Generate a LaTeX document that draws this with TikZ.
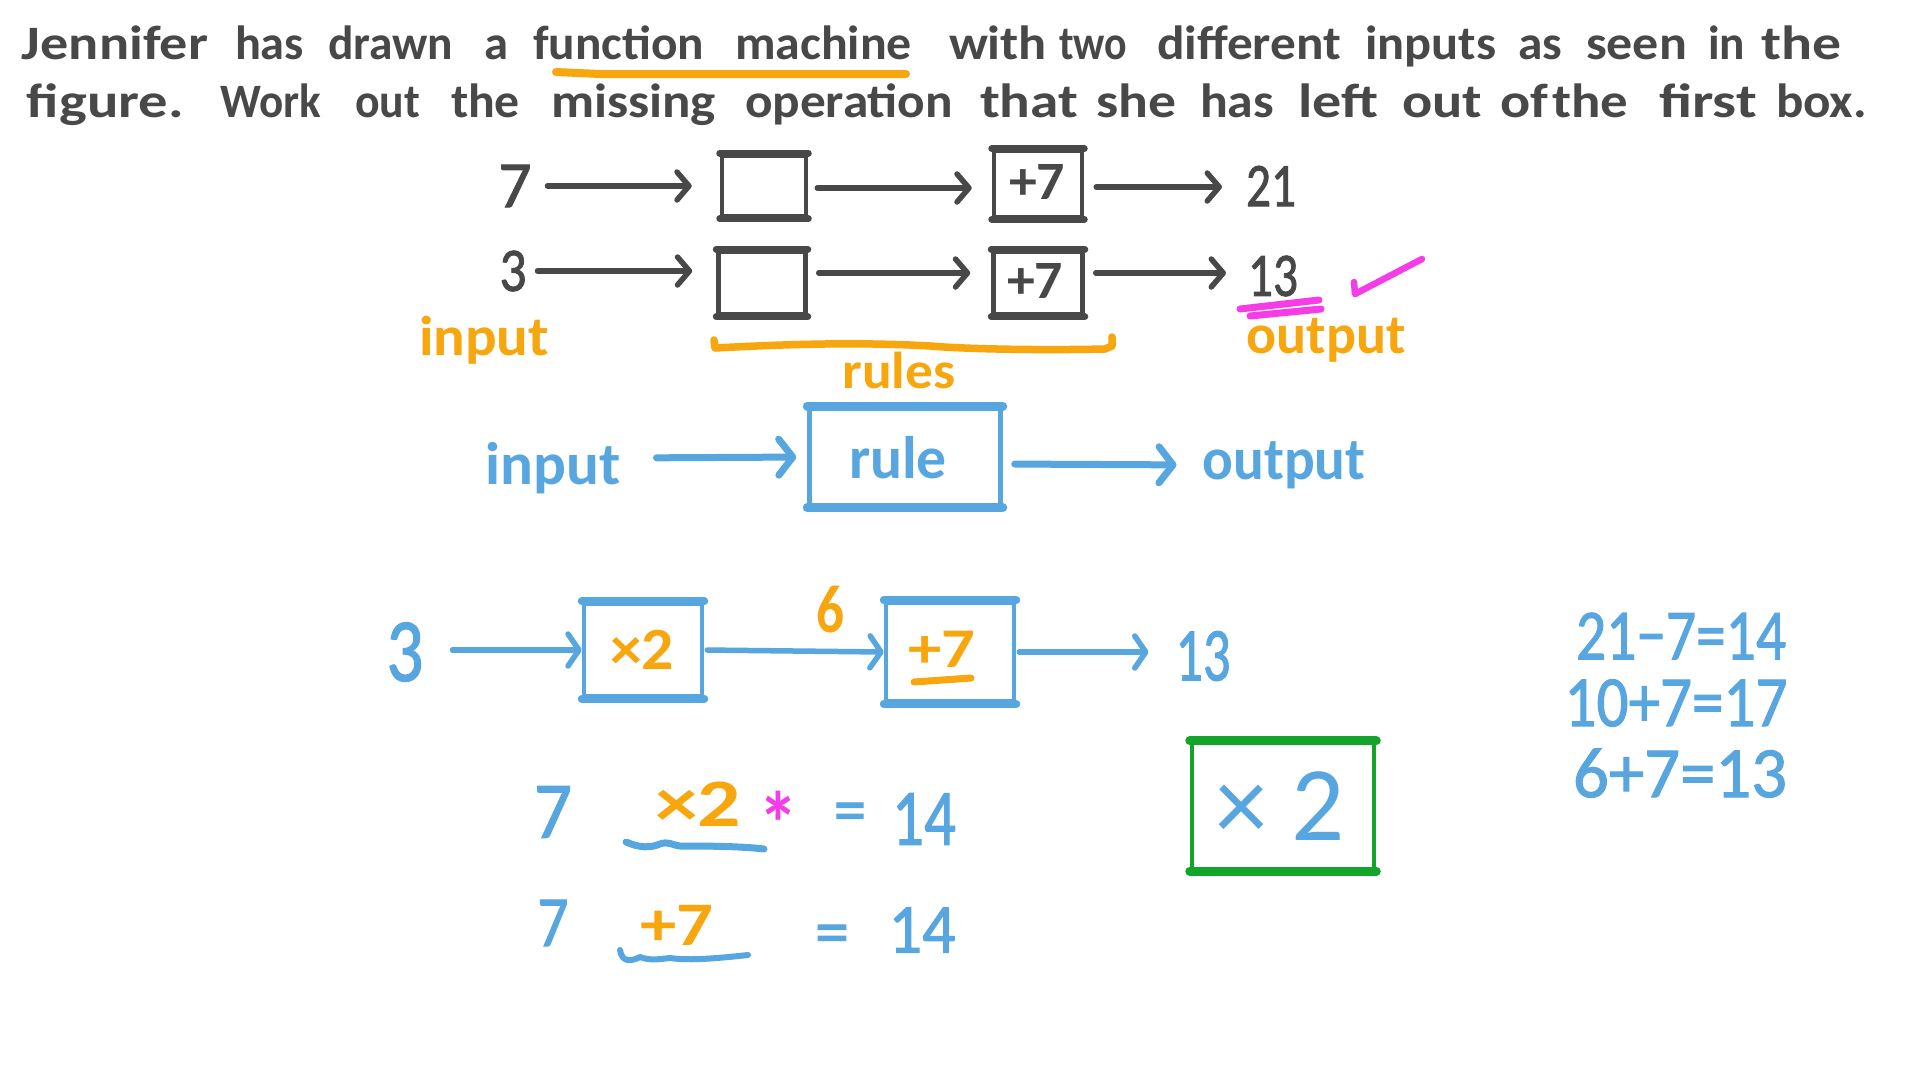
\documentclass[tikz,border=0pt]{standalone}
\usepackage{graphicx}
\usepackage{fontspec}
\setmainfont{Carlito}
\newfontfamily\semi[FakeBold=1.5]{Carlito}
\usetikzlibrary{arrows.meta}
\definecolor{ink}{HTML}{484848}
\definecolor{sky}{HTML}{58A6E0}
\definecolor{amber}{HTML}{F7A60E}
\definecolor{pinkish}{HTML}{F63CE6}
\definecolor{grass}{HTML}{12A52A}
\tikzset{
  darkarrow/.style={draw=ink,line width=5.5pt,line cap=round,line join=round,-{Straight Barb[length=12pt,width=28pt,round]}},
  bluearrow/.style={draw=sky,line width=7pt,line cap=round,line join=round,-{Straight Barb[length=14pt,width=36pt,round]}},
  thinblue/.style={draw=sky,line width=5.5pt,line cap=round,line join=round,-{Straight Barb[length=11pt,width=32pt,round]}},
  stroke/.style={line width=#1,line cap=round,line join=round},
  machine/.style={rectangle,inner sep=0pt,line width=4.5pt},
  lbl/.style={inner sep=0pt,outer sep=0pt},
}
% word fitted between two x positions, on a baseline
\newcommand{\hw}[5]{\node[lbl,anchor=base west,text=ink,font=\fontsize{48}{48}\selectfont\bfseries] (#1) at (#2,#4) {\resizebox{\dimexpr #3pt-#2pt\relax}{\height}{#5}};}
% text centred and fitted to a width
\newcommand{\lab}[7]{\node[lbl,text=#6,font=\fontsize{#5}{#5}\selectfont] (#1) at (#2,#3) {\resizebox{#4pt}{\height}{#7}};}
% box with thicker top and bottom edges
\newcommand{\mach}[7]{\node[machine,draw=#6,minimum width=#4pt-4pt,minimum height=#5pt-4pt] (#1) at (#2,#3) {};
  \draw[#6,line width=#7,line cap=round] (#1.north west) -- (#1.north east) (#1.south west) -- (#1.south east);}
\begin{document}
\begin{tikzpicture}[x=1pt,y=-1pt]
\useasboundingbox (0,0) rectangle (1920,1080);
\fill[white] (0,0) rectangle (1920,1080);
% heading line 1
\hw{a1}{22}{208}{59}{Jennifer}
\hw{a2}{235}{304}{59}{has}
\hw{a3}{328}{453}{59}{drawn}
\hw{a4}{484}{508}{59}{a}
\hw{a5}{533}{704}{59}{function}
\hw{a6}{735}{912}{59}{machine}
\hw{a7}{949}{1047}{59}{with}
\hw{a8}{1059}{1127}{59}{two}
\hw{a9}{1157}{1341}{59}{different}
\hw{a10}{1365}{1496}{59}{inputs}
\hw{a11}{1518}{1562}{59}{as}
\hw{a12}{1586}{1687}{59}{seen}
\hw{a13}{1708}{1745}{59}{in}
\hw{a14}{1761}{1841}{59}{the}
% heading line 2
\hw{b1}{27}{184}{117}{figure.}
\hw{b2}{220}{321}{117}{Work}
\hw{b3}{355}{420}{117}{out}
\hw{b4}{451}{520}{117}{the}
\hw{b5}{551}{716}{117}{missing}
\hw{b6}{745}{953}{117}{operation}
\hw{b7}{980}{1078}{117}{that}
\hw{b8}{1096}{1176}{117}{she}
\hw{b9}{1200}{1274}{117}{has}
\hw{b10}{1298}{1378}{117}{left}
\hw{b11}{1402}{1482}{117}{out}
\hw{b12}{1500}{1548}{117}{of}
\hw{b13}{1552}{1628}{117}{the}
\hw{b14}{1659}{1757}{117}{first}
\hw{b15}{1776}{1867}{117}{box.}
\draw[amber,stroke=8pt] (556,72) -- (600,74) -- (906,74);
% first machine row
\lab{s7}{515}{186}{33}{66}{ink}{\semi 7}
\mach{p1}{764}{186}{88}{65}{ink}{7pt}
\mach{q1}{1038}{184}{92}{70}{ink}{7pt}
\lab{qt1}{1037}{182}{56}{54}{ink}{\bfseries +7}
\lab{o1}{1271}{186}{50}{62}{ink}{\semi 21}
\draw[darkarrow,shorten <=16pt,shorten >=28pt] (s7.east) -- (p1.west);
\draw[darkarrow,shorten <=9pt,shorten >=20pt] ([yshift=-2pt]p1.east) -- ([yshift=-4pt]q1.west);
\draw[darkarrow,shorten <=12pt,shorten >=24pt] ([yshift=-3pt]q1.east) -- ([yshift=-1pt]o1.west);
% second machine row
\lab{s3}{513}{271}{27}{62}{ink}{\semi 3}
\mach{p2}{762}{283}{91}{67}{ink}{7pt}
\mach{q2}{1038}{283}{93}{67}{ink}{7pt}
\lab{qt2}{1035}{281}{56}{54}{ink}{\bfseries +7}
\lab{o2}{1273}{276}{50}{62}{ink}{\semi 13}
\draw[darkarrow,shorten <=11pt,shorten >=24pt] (s3.east) -- (p2.west |- s3.east);
\draw[darkarrow,shorten <=11pt,shorten >=21pt] ([yshift=10pt]p2.east) -- ([yshift=10pt]q2.west);
\draw[darkarrow,shorten <=11pt,shorten >=22pt] ([yshift=10pt]q2.east) -- ([yshift=3pt]o2.west);
\draw[pinkish,stroke=7pt] (1240,309) -- (1319,300);
\draw[pinkish,stroke=7pt] (1250,316) -- (1321,309);
\draw[pinkish,stroke=6.5pt] (1354,282) -- (1355,294) -- (1422,259);
% orange labels
\lab{i1}{484}{340}{130}{56}{amber}{\bfseries input}
\lab{o3}{1326}{340}{159}{56}{amber}{\bfseries output}
\lab{r1}{899}{370}{113}{52}{amber}{\bfseries rules}
\draw[amber,stroke=7.5pt] (714,340) -- (715,348) .. controls (790,344) and (860,342) .. (930,346) .. controls (980,350) and (1060,350) .. (1105,349) -- (1112,346) -- (1112,337);
% rule row
\lab{i2}{553}{468}{135}{60}{sky}{\bfseries input}
\mach{rb}{905}{457}{195}{101}{sky}{9pt}
\lab{rt}{898}{458}{98}{60}{sky}{\bfseries rule}
\lab{o4}{1284}{465}{163}{60}{sky}{\bfseries output}
\draw[bluearrow,shorten <=36pt,shorten >=11pt] (i2.east |- rt.center) -- (rb.west);
\draw[bluearrow,shorten <=12pt,shorten >=26pt] ([yshift=-7pt]rb.east) -- (o4.west);
% worked machine
\lab{s4}{405}{652}{37}{90}{sky}{\semi 3}
\mach{p3}{643}{650}{122}{97}{sky}{8pt}
\lab{pt3}{642}{650}{64}{60}{amber}{\bfseries ×2}
\mach{q3}{950}{652}{132}{103}{sky}{8pt}
\lab{qt3}{942}{649}{67}{56}{amber}{\bfseries +7}
\lab{o5}{1203}{656}{55}{76}{sky}{\semi 13}
\lab{six}{830}{610}{28}{68}{amber}{\bfseries 6}
\draw[amber,stroke=7pt] (914,682) -- (971,678);
\draw[thinblue,shorten <=29pt] (s4.east |- p3.west) -- (p3.west);
\draw[thinblue,shorten <=3pt] (p3.east) -- (q3.west);
\draw[thinblue,shorten <=3pt,shorten >=27pt] (q3.east) -- (o5.west |- q3.east);
% trial lines
\lab{t1}{553}{812}{38}{80}{sky}{\semi 7}
\lab{t2}{698}{804}{86}{68}{amber}{\bfseries ×2}
\lab{t3}{778}{823}{40}{90}{pinkish}{\bfseries *}
\lab{t4}{850}{818}{32}{70}{sky}{\semi =}
\lab{t5}{924}{819}{64}{80}{sky}{\semi 14}
\draw[sky,stroke=7pt] (626,842) .. controls (640,848) and (650,848) .. (660,844) .. controls (668,841) and (672,845) .. (680,846) .. controls (700,846) and (740,846) .. (764,849);
\lab{u1}{553}{923}{31}{72}{sky}{\semi 7}
\lab{u2}{677}{925}{73}{62}{amber}{\bfseries +7}
\lab{u3}{832}{940}{34}{70}{sky}{\semi =}
\lab{u4}{922}{930}{67}{70}{sky}{\semi 14}
\draw[sky,stroke=6pt] (620,950) .. controls (622,962) and (630,962) .. (640,957) .. controls (650,961) and (660,959) .. (670,958) .. controls (690,961) and (720,958) .. (748,955);
% answer
\mach{ans}{1283}{806}{186}{130}{grass}{9pt}
\lab{anst}{1280}{806}{129}{106}{sky}{× 2}
% side sums
\lab{e1}{1681}{636}{210}{72}{sky}{\semi 21−7=14}
\lab{e2}{1676}{703}{223}{72}{sky}{\semi 10+7=17}
\lab{e3}{1680}{773}{214}{72}{sky}{\semi 6+7=13}
\end{tikzpicture}
\end{document}
